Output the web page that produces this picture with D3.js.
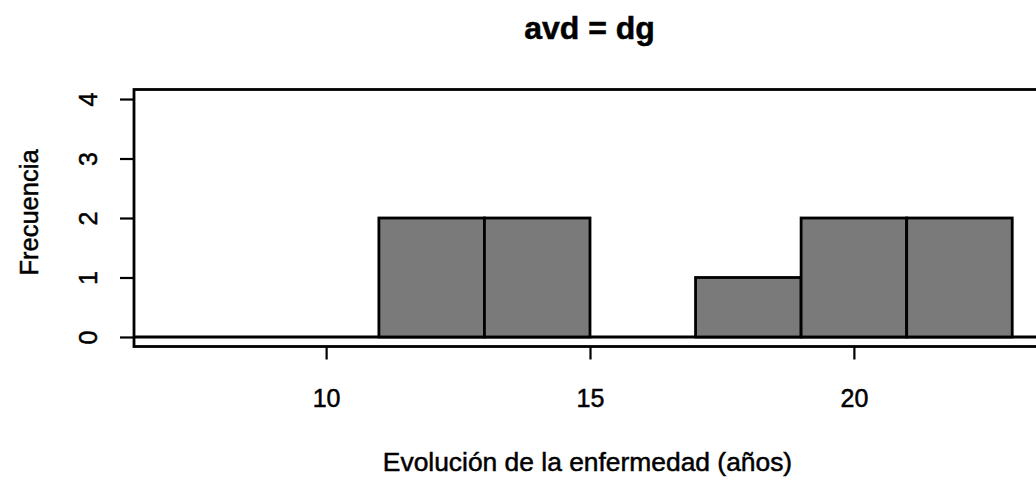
<!DOCTYPE html>
<html>
<head>
<meta charset="utf-8">
<script src="https://cdn.jsdelivr.net/npm/d3@7/dist/d3.min.js"></script>
<style>
  html, body { margin: 0; padding: 0; background: #fff; }
  svg { display: block; font-family: "Liberation Sans", Arial, sans-serif; }
  svg text { stroke: #000; stroke-width: 0.5px; }
</style>
</head>
<body>
<svg id="chart" width="1036" height="482"></svg>
<script>
// ---- data ----
const binEdges = [7, 9, 11, 13, 15, 17, 19, 21, 23];
const counts   = [0, 0, 2, 2, 0, 1, 2, 2];
const xTicks   = [10, 15, 20];
const yTicks   = [0, 1, 2, 3, 4];
const titleText = "avd = dg";
const xLabel = "Evolución de la enfermedad (años)";
const yLabel = "Frecuencia";

// ---- layout ----
const svg = d3.select("#chart");
const pLeft = 134, pRight = 1046, pTop = 89.5, pBottom = 346.5;
const FONT = "Liberation Sans, Arial, sans-serif";

const xMin = binEdges[0], xMax = binEdges[binEdges.length - 1];
const xPad = (xMax - xMin) * 0.04;
const x = d3.scaleLinear().domain([xMin - xPad, xMax + xPad]).range([pLeft, pRight]);
const yMax = 4;
const yPad = yMax * 0.04;
const y = d3.scaleLinear().domain([-yPad, yMax + yPad]).range([pBottom, pTop]);

const bins = counts.map((c, i) => ({ x0: binEdges[i], x1: binEdges[i + 1], c }));

// baseline at zero across plot
svg.append("line")
  .attr("x1", pLeft).attr("x2", pRight)
  .attr("y1", y(0)).attr("y2", y(0))
  .attr("stroke", "#000").attr("stroke-width", 2.8);

// bars
svg.append("g").selectAll("rect")
  .data(bins.filter(d => d.c > 0))
  .join("rect")
  .attr("x", d => x(d.x0))
  .attr("y", d => y(d.c))
  .attr("width", d => x(d.x1) - x(d.x0))
  .attr("height", d => y(0) - y(d.c))
  .attr("fill", "#7a7a7a")
  .attr("stroke", "#000")
  .attr("stroke-width", 2.8);

// box
svg.append("rect")
  .attr("x", pLeft).attr("y", pTop)
  .attr("width", pRight - pLeft).attr("height", pBottom - pTop)
  .attr("fill", "none").attr("stroke", "#000").attr("stroke-width", 2.8);

// x axis
const xAxis = d3.axisBottom(x).tickValues(xTicks).tickSize(13).tickPadding(0).tickFormat(d3.format("d"));
const gx = svg.append("g").attr("transform", `translate(0,${pBottom})`).call(xAxis);
gx.select(".domain").remove();
gx.selectAll("line").attr("stroke", "#000").attr("stroke-width", 2.2);
gx.selectAll("text")
  .attr("font-size", 25).attr("fill", "#000").attr("font-family", FONT)
  .attr("y", 407 - pBottom).attr("dy", null);

// y axis
const yAxis = d3.axisLeft(y).tickValues(yTicks).tickSize(14).tickFormat(d3.format("d"));
const gy = svg.append("g").attr("transform", `translate(${pLeft},0)`).call(yAxis);
gy.select(".domain").remove();
gy.selectAll("line").attr("stroke", "#000").attr("stroke-width", 2.2);
gy.selectAll("text")
  .attr("font-size", 25).attr("fill", "#000").attr("font-family", FONT)
  .attr("x", 0).attr("y", 0).attr("dy", null)
  .attr("text-anchor", "middle")
  .attr("transform", `translate(${97 - pLeft},0) rotate(-90)`);

// title
svg.append("text")
  .attr("x", 589.5).attr("y", 39)
  .attr("text-anchor", "middle")
  .attr("font-family", FONT)
  .attr("font-weight", "bold").attr("font-size", 32)
  .text(titleText);

// x label
svg.append("text")
  .attr("x", 587.5).attr("y", 471)
  .attr("text-anchor", "middle")
  .attr("font-family", FONT)
  .attr("font-size", 26.4)
  .text(xLabel);

// y label
svg.append("text")
  .attr("transform", `translate(38,212.5) rotate(-90)`)
  .attr("text-anchor", "middle")
  .attr("font-family", FONT)
  .attr("font-size", 25.5)
  .text(yLabel);
</script>
</body>
</html>
